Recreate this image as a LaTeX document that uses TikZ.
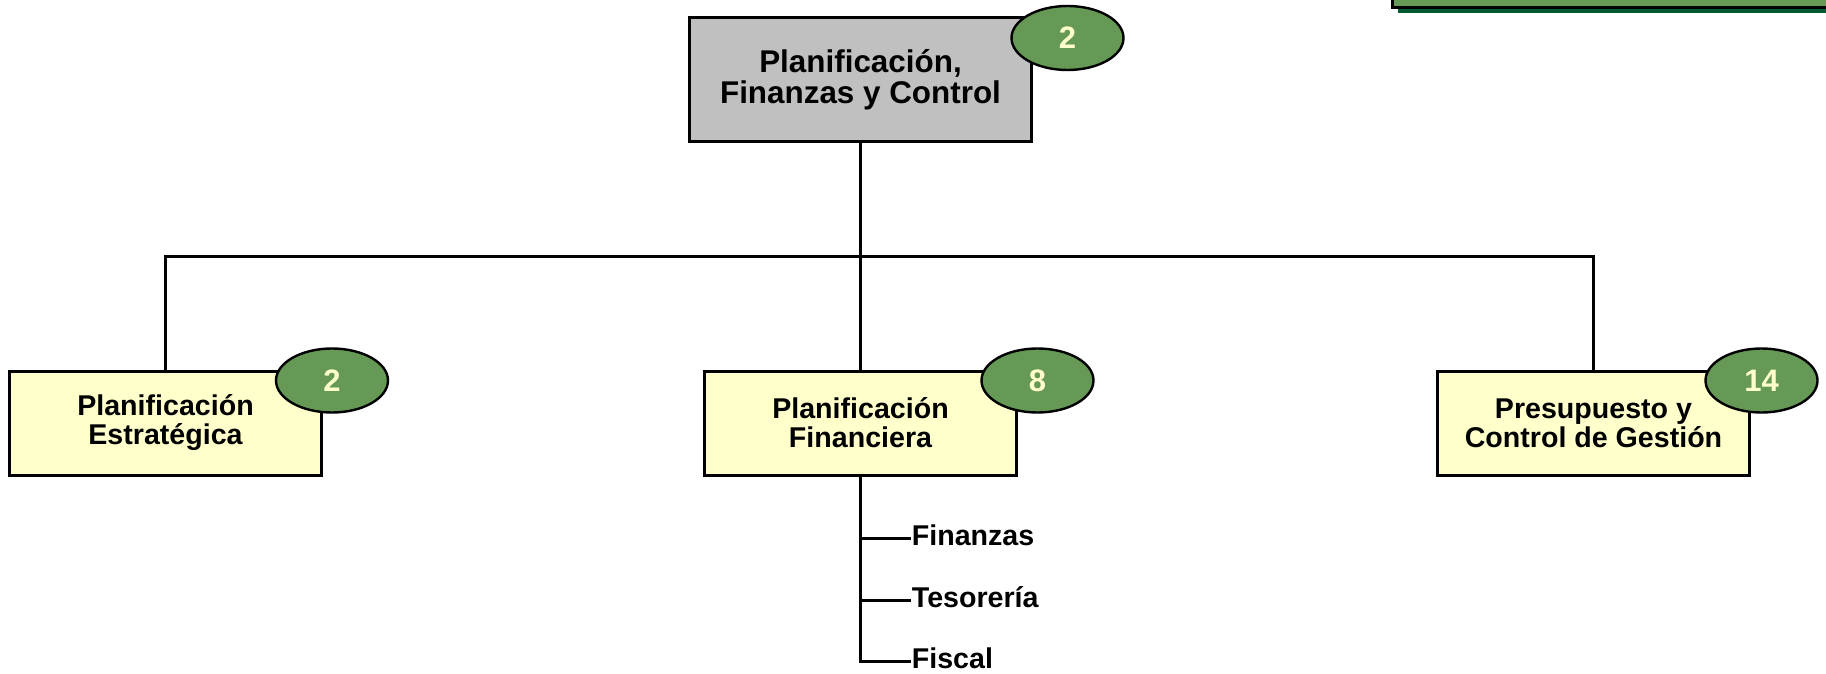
\documentclass[tikz,border=0pt]{standalone}
\usepackage{fontspec}
\setmainfont{Liberation Sans}
\usetikzlibrary{positioning,shapes.geometric,calc}

\definecolor{boxgray}{HTML}{C0C0C0}
\definecolor{boxyellow}{HTML}{FFFFCC}
\definecolor{badgegreen}{HTML}{669955}
\definecolor{shadegreen}{HTML}{005A32}

\begin{document}
\begin{tikzpicture}[
  node distance = 113pt and 190pt,
  every node/.style = {align=center},
  headbox/.style = {draw, line width=1.5pt, fill=boxgray,
                    minimum width=171pt, minimum height=62pt, inner sep=2pt,
                    font=\bfseries\fontsize{15.7pt}{15.5pt}\selectfont},
  unitbox/.style = {draw, line width=1.5pt, fill=boxyellow,
                    minimum width=156pt, minimum height=52pt, inner sep=2pt,
                    font=\bfseries\fontsize{14.3pt}{14.5pt}\selectfont},
  badge/.style   = {ellipse, draw, line width=1.2pt, fill=badgegreen,
                    text=boxyellow, minimum width=56pt, minimum height=32pt,
                    inner sep=0pt, font=\bfseries\fontsize{15.5pt}{15.5pt}\selectfont},
  item/.style    = {anchor=west, inner sep=0.5pt, text height=7pt, text depth=0pt,
                    font=\bfseries\fontsize{14.3pt}{14.5pt}\selectfont},
  link/.style    = {line width=1.5pt, line join=miter},
]
\useasboundingbox (0,0) rectangle (913pt,-337pt);

% Legend box cut off at the top right
\fill[shadegreen] (699pt,10pt) rectangle (920pt,-6.5pt);
\draw[line width=1.5pt, fill=badgegreen] (696pt,10pt) rectangle (920pt,-4pt);

% Head and units
\node[headbox] (pfc) at (430.25pt,-40pt) {Planificación,\\Finanzas y Control};
\node[unitbox, below=of pfc]      (pf) {Planificación\\Financiera};
\node[unitbox, left=of pf]        (pe) {Planificación\\Estratégica};
\node[unitbox, right=209pt of pf] (pc) {Presupuesto y\\Control de Gestión};

% Head count badges
\node[badge] (n0) at ([xshift=17.25pt,yshift=-10.75pt]pfc.north east) {2};
\node[badge] (n1) at ([xshift=4.5pt,yshift=-5.5pt]pe.north east)      {2};
\node[badge] (n2) at ([xshift=9.75pt,yshift=-5.5pt]pf.north east)     {8};
\node[badge] (n3) at ([xshift=5.25pt,yshift=-5.5pt]pc.north east)     {14};

% Areas below Planificación Financiera
\node[item] (fin) at ([xshift=25pt,yshift=-31pt]pf.south) {Finanzas};
\node[item] (tes) at ([yshift=-31pt]fin.west)             {Tesorería};
\node[item] (fis) at ([yshift=-30.5pt]tes.west)           {Fiscal};

% Tree lines
\coordinate (bus) at (0,-128pt);
\draw[link] (pfc.south) -- (pfc.south |- bus);
\draw[link] (pe.north) -- (pe.north |- bus) -- (pc.north |- bus) -- (pc.north);
\draw[link] (pf.north) -- (pf.north |- bus);
\draw[link] (pf.south) |- (fis.west);
\draw[link] (fin.west -| pf.south) -- (fin.west);
\draw[link] (tes.west -| pf.south) -- (tes.west);

\end{tikzpicture}
\end{document}
